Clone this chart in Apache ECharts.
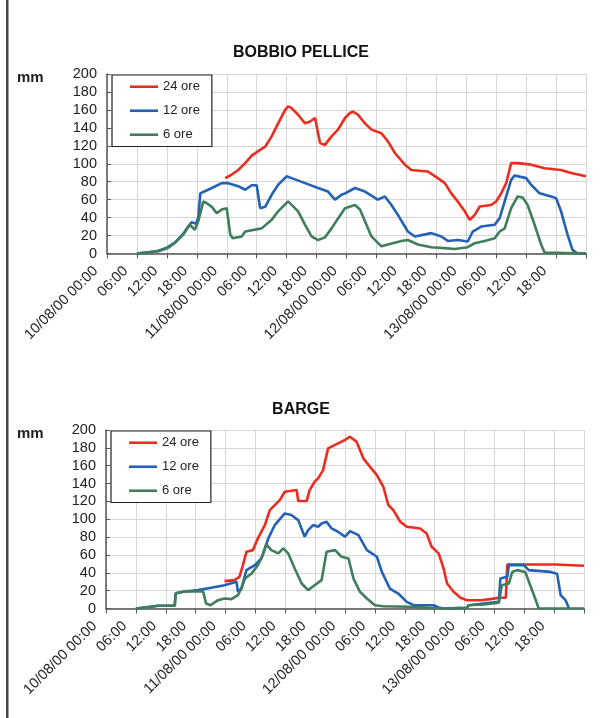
<!DOCTYPE html>
<html>
<head>
<meta charset="utf-8">
<script src="https://cdn.jsdelivr.net/npm/echarts@6/dist/echarts.min.js"></script>
<style>
html,body{margin:0;padding:0;background:#fff;}
#chart{width:602px;height:718px;}
</style>
</head>
<body>
<div id="chart"></div>
<script>
// ---- Tick labels (x axis every 6 hours, hour 0 = 10/08/00 00:00) ----
const tickLabels = ['10/08/00 00:00','06:00','12:00','18:00','11/08/00 00:00','06:00','12:00','18:00',
  '12/08/00 00:00','06:00','12:00','18:00','13/08/00 00:00','06:00','12:00','18:00'];
const seriesNames = ['24 ore','12 ore','6 ore'];

// ---- BOBBIO PELLICE ----
const bobbio24Hours = [23.7,25,26.3,27.7,29,30.3,31.7,33,34.3,35.7,36.3,37,38.3,39.7,40.7,41.7,42.7,43.7,45,46.3,47.7,48.7,49.3,50.3,51.7,53,55,56.3,57.7,59.7,61,64.3,66.3,67.7,69,70.3,71.7,72.7,73.7,74.7,77,78,79,80,81,82.3,85,87.7,91,93,96];
const bobbio24Values = [84,88,93,100.7,109,114,119,130.5,145,160,164,162,154.6,145,147,151,123,121,130.5,138,151,156.5,158,154.6,145,138,134,125,112,99,93,91.4,84,78.4,67,58,47,37.5,43,52.4,54,58,67,78.4,100.7,100.7,99,95,93,89.6,86];

const bobbio12Hours = [6,10,12,13.6,15.3,16,17,17.8,18.3,18.7,19,21,23,24.3,26.3,27.7,29,30,30.7,31.7,33,34.3,36,37,39.7,42.3,44.3,45.7,47,47.7,49.7,51.7,54.3,55.7,57,58.3,60.3,61.7,65,67,68.3,70.3,72.3,73.3,75,77.7,78.7,79.7,81,81.7,84,85,86.7,89,90,91,92.3,93.3,94.3,96];
const bobbio12Values = [0,2.5,6.5,12,22,28,35,33,40,67,69,73,78.4,78.4,75,71,76,76,50.5,52,65.4,76.6,86,84,78.4,73,69,60,65.4,67,73,69,60,63.6,54,43,24.5,19,22.7,19,14,15,13.4,24.5,30,32,39.4,58,82,87,84,76.6,67,63.6,61.7,47,21,4,0,0];

const bobbio6Hours = [6,10.3,12.3,13.6,15.3,16.6,17.6,18.3,19.3,20,21,22,23,24,24.7,25.2,27,27.7,31,33,34.3,36.3,36.7,38.3,39.7,41,42.3,43.7,45,46.3,47.7,49.7,50.7,51.7,53,55,56.3,59,60.3,62.3,65,67.7,69.7,72.3,73.7,75.7,77.7,78.7,79.7,81,82.3,83.3,84.3,85.7,87,87.7,88,96];
const bobbio6Values = [0,2.5,6.5,12,21,32,26.5,36,58,56,52,45,49,50.5,21,17,19,24.5,28,37.5,47,58,59,47,32,19,15,18,28,39,50.5,54,49,36,19,8,10,14,15,10,7,6,5,7,11.5,14,17,24.5,28,50.5,63.6,62.5,54,32,10,1,0,0];

// ---- BARGE ----
const barge24Hours = [23.8,25.8,26.8,27.5,28.2,29.5,30.5,31.9,32.9,33.9,34.9,35.9,38.3,38.6,40.3,40.9,41.9,42.6,43.6,44.6,46.6,48,49,50.3,51.7,53,54.4,55.7,56.7,57.7,59.1,60.4,63.1,64.4,65.4,66.8,67.8,68.5,69.8,71.2,72.5,75.2,77.2,78.9,80.3,80.6,90.3,90.5,96];
const barge24Values = [30.7,31.8,35.5,48.6,63.6,65.4,78.5,93.5,110.3,115.9,121.5,130.8,132.7,120.4,120.4,132.7,142,145.8,155,179.4,185,188.8,192.5,187,168,159,149.5,136.4,116,110.3,97.2,91.6,89.7,84.1,69.2,61.7,44.9,28,18.7,12,9.3,9.3,10.5,12,12,49.3,49.3,47.9,47.9];

const barge12Hours = [6,10.4,13.8,14,15.8,18.5,21.1,23.8,26.2,26.5,27.2,28.2,29.9,31.2,32.6,33.9,35.9,37.2,38.6,39.9,40.6,41.6,42.6,43.3,44.3,45.3,46.6,48,49,50.7,52.4,54.4,55.4,57,58.7,60.4,61.8,65.8,66.8,67.8,72.5,72.8,78.9,79.2,80.6,80.9,83.9,84.9,89.3,90.6,91.3,92.3,93];
const barge12Values = [0,3,3,17,19,20.6,23.2,26,29.9,18.7,22.4,43,48.6,56,78.5,93.5,106.5,104.7,99,80.4,87.9,93.5,91.6,95.3,97.2,89.7,86,80.4,86.7,82.2,65.4,58,41,22.4,16.8,7.5,3.7,3.7,1.1,0,0.7,3.7,7.5,33.6,35.5,48.6,48.6,43,41,39,15,9.3,0];

const barge6Hours = [6,8,10.4,13.8,14,15.8,19.5,20.1,21,22.5,23.8,25.2,26.5,27.2,27.9,29.2,30.5,31.5,32.2,33.2,34.6,35.6,36.6,37.9,39.3,40.6,41.9,43.3,44.3,46,47.3,48.7,49.7,51,52.4,54,55.7,61,65,67.8,72.5,72.8,75.9,78.9,79.5,80.9,81.6,82.6,84.2,85.2,86.2,86.9,96];
const barge6Values = [0,1,3,3,17,19,19,5.6,3.7,9.3,11.2,10.5,15,22.4,33.6,39,48.6,60,71.8,65.4,61.7,67.3,61.7,44.9,28,20.6,26,31.8,63.6,65.4,58,56,33.6,18.7,11.2,3.7,2.6,1.9,0.7,0,0.7,3.7,4.5,6.4,26,28,41,43,41,26,11.2,0,0];

const colors = ['#ee2b1f','#2261b6','#3f7d5b'];

function pairs(hours, vals){ return hours.map((h,i)=>[h, vals[i]]); }

const chart = echarts.init(document.getElementById('chart'), null, {renderer:'canvas'});

const FONT = 'Liberation Sans, Arial, sans-serif';

function xAxisCfg(gi){
  return {
    type:'value', gridIndex:gi, min:0, max:96, interval:6,
    axisLine:{show:true, onZero:false, lineStyle:{color:'#555', width:1.5}},
    axisTick:{show:true, length:5, lineStyle:{color:'#555'}},
    splitLine:{show:true, lineStyle:{color:'#d6d6d6', width:1}},
    axisLabel:{
      rotate:45, margin:4, fontSize:14.5, color:'#222', fontFamily:FONT,
      padding:[0,16,0,0],
      formatter:function(v){ const i=Math.round(v/6); return i<tickLabels.length ? tickLabels[i] : ''; }
    }
  };
}
function yAxisCfg(gi){
  return {
    type:'value', gridIndex:gi, min:0, max:200, interval:20,
    axisLine:{show:true, lineStyle:{color:'#555', width:1.5}},
    axisTick:{show:true, inside:true, length:4, lineStyle:{color:'#555'}},
    splitLine:{show:true, lineStyle:{color:'#d6d6d6', width:1}},
    axisLabel:{margin:10, fontSize:14.5, color:'#222', fontFamily:FONT}
  };
}
function lineSeries(name, gi, hours, vals, color){
  return {
    name:name, type:'line', xAxisIndex:gi, yAxisIndex:gi,
    data:pairs(hours, vals), symbol:'none', showSymbol:false, smooth:false,
    lineStyle:{color:color, width:2.6}, itemStyle:{color:color},
    animation:false
  };
}
function legendCfg(left, top){
  return {
    orient:'vertical', left:left, top:top,
    data:seriesNames,
    icon:'rect',
    itemWidth:28, itemHeight:2.6, itemGap:8.5,
    padding:[4,12,4,18],
    backgroundColor:'#fff', borderColor:'#222', borderWidth:1.2,
    textStyle:{fontSize:13, color:'#222', fontFamily:FONT, lineHeight:15.5},
    selectedMode:false
  };
}

chart.setOption({
  animation:false,
  backgroundColor:'#fff',
  title:[
    {text:'BOBBIO PELLICE', left:'center', top:45, padding:0,
     textStyle:{fontSize:16, fontWeight:'bold', color:'#111', fontFamily:FONT}},
    {text:'BARGE', left:'center', top:402, padding:0,
     textStyle:{fontSize:16, fontWeight:'bold', color:'#111', fontFamily:FONT}}
  ],
  grid:[
    {left:107, right:16, top:74, height:179.5},
    {left:106, right:18, top:430, height:178.5}
  ],
  xAxis:[xAxisCfg(0), xAxisCfg(1)],
  yAxis:[yAxisCfg(0), yAxisCfg(1)],
  legend:[legendCfg(112,75), legendCfg(111,431)],
  series:[
    lineSeries(seriesNames[0],0,bobbio24Hours,bobbio24Values,colors[0]),
    lineSeries(seriesNames[1],0,bobbio12Hours,bobbio12Values,colors[1]),
    lineSeries(seriesNames[2],0,bobbio6Hours,bobbio6Values,colors[2]),
    lineSeries(seriesNames[0],1,barge24Hours,barge24Values,colors[0]),
    lineSeries(seriesNames[1],1,barge12Hours,barge12Values,colors[1]),
    lineSeries(seriesNames[2],1,barge6Hours,barge6Values,colors[2])
  ],
  graphic:[
    {type:'rect', left:6, top:0, shape:{width:2.5, height:718}, style:{fill:'#444'}},
    {type:'text', left:17, top:70, style:{text:'mm', fill:'#222', font:'bold 15px Liberation Sans, Arial, sans-serif'}},
    {type:'text', left:17, top:426, style:{text:'mm', fill:'#222', font:'bold 15px Liberation Sans, Arial, sans-serif'}}
  ]
});
</script>
</body>
</html>
